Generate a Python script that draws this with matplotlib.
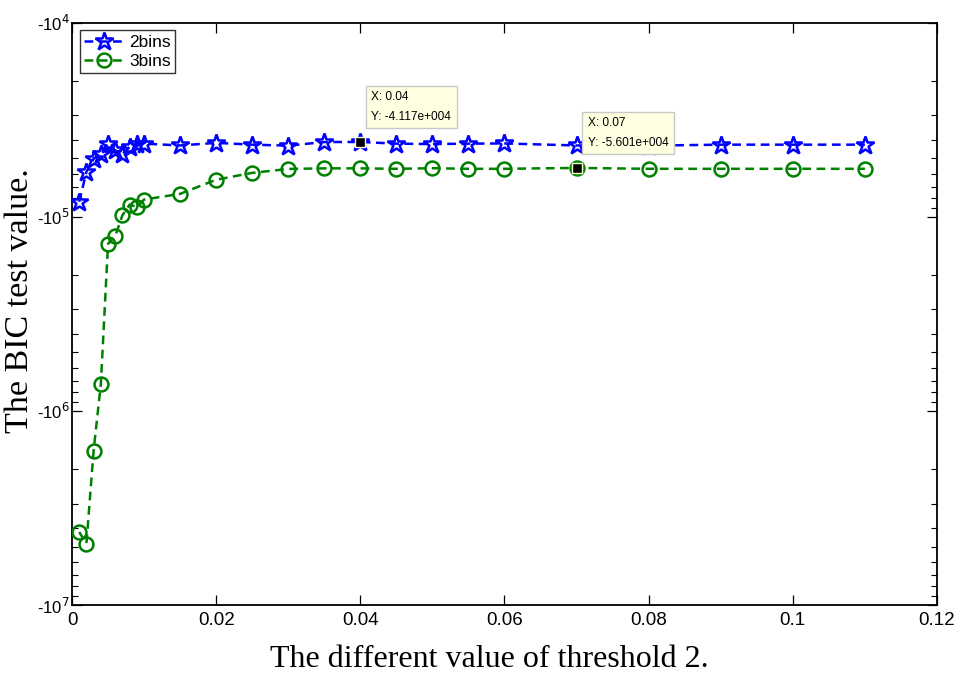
import math
import matplotlib
matplotlib.use("Agg")
import matplotlib.pyplot as plt
from matplotlib.ticker import FixedLocator, FuncFormatter, LogLocator, NullFormatter

# Threshold values (x) and BIC magnitudes; BIC values are negative, plotted by |BIC|
threshold = [0.001, 0.002, 0.003, 0.004, 0.005, 0.006, 0.007, 0.008, 0.009, 0.010,
             0.015, 0.020, 0.025, 0.030, 0.035, 0.040, 0.045, 0.050, 0.055, 0.060,
             0.070, 0.080, 0.090, 0.100, 0.110]

bic_2bins = [83.7e3, 58.7e3, 50.2e3, 47.3e3, 42.0e3, 45.5e3, 47.3e3, 43.7e3, 42.0e3, 42.0e3,
             42.9e3, 41.6e3, 42.5e3, 43.0e3, 41.2e3, 41.17e3, 42.0e3, 42.2e3, 42.0e3, 41.9e3,
             42.9e3, 43.0e3, 42.5e3, 42.5e3, 42.5e3]

bic_3bins = [4.21e6, 4.83e6, 1.60e6, 7.27e5, 1.377e5, 1.257e5, 9.80e4, 8.65e4, 8.92e4, 8.15e4,
             7.62e4, 6.44e4, 5.94e4, 5.67e4, 5.63e4, 5.63e4, 5.66e4, 5.62e4, 5.66e4, 5.66e4,
             5.601e4, 5.66e4, 5.66e4, 5.66e4, 5.66e4]

series_labels = ["2bins", "3bins"]
x_ticks = [0, 0.02, 0.04, 0.06, 0.08, 0.1, 0.12]
x_tick_labels = ["0", "0.02", "0.04", "0.06", "0.08", "0.1", "0.12"]
y_decades = [4, 5, 6, 7]

# data tips: (series index, x value)
tips = [(0, 0.040), (1, 0.070)]

sans = "Liberation Sans"
label_font = "Liberation Serif"

fig = plt.figure(figsize=(9.6, 6.75), dpi=100)
ax = fig.add_axes([0.075, 0.1037, 0.901, 0.8627])

ax.plot(threshold, bic_2bins, linestyle="--", color="#0000ff", linewidth=1.8,
        marker="*", markersize=13.5, markerfacecolor="none", markeredgecolor="#0000ff",
        markeredgewidth=1.8, dashes=(3.5, 2.2), label=series_labels[0], zorder=3)
ax.plot(threshold, bic_3bins, linestyle="--", color="#008000", linewidth=1.8,
        marker="o", markersize=10, markerfacecolor="none", markeredgecolor="#008000",
        markeredgewidth=1.8, dashes=(3.5, 2.2), label=series_labels[1], zorder=3)

ax.set_yscale("log")
ax.set_ylim(1e7, 1e4)  # larger magnitude (more negative) at the bottom
ax.set_xlim(0, 0.12)

ax.yaxis.set_major_locator(FixedLocator([10.0 ** d for d in y_decades]))
ax.yaxis.set_minor_locator(LogLocator(base=10, subs=range(2, 10)))
ax.yaxis.set_minor_formatter(NullFormatter())
ax.yaxis.set_major_formatter(FuncFormatter(lambda v, p: r"-10$^{%d}$" % round(math.log10(v))))

ax.xaxis.set_major_locator(FixedLocator(x_ticks))
ax.set_xticklabels(x_tick_labels)

ax.tick_params(which="both", direction="in", top=True, right=True)
ax.tick_params(which="major", length=7, width=0.9)
ax.tick_params(which="minor", length=4, width=0.8)
ax.tick_params(axis="x", which="major", pad=5)
ax.tick_params(axis="y", which="major", pad=1.5)
for lab in ax.get_xticklabels():
    lab.set_fontfamily(sans)
    lab.set_fontsize(13.5)
for lab in ax.get_yticklabels():
    lab.set_fontfamily(sans)
    lab.set_fontsize(12)
for s in ax.spines.values():
    s.set_linewidth(1.3)

ax.set_xlabel("The different value of threshold 2.", fontfamily=label_font, fontsize=23)
ax.xaxis.set_label_coords(0.483, -0.068)
ax.set_ylabel("The BIC test value.", fontfamily=label_font, fontsize=24.5,
              va="center", ha="center")
ax.yaxis.set_label_coords(-0.0607, 0.522)

leg = ax.legend(loc="upper left", bbox_to_anchor=(0.0, 1.0), frameon=True, fancybox=False,
                edgecolor="black", prop={"family": sans, "size": 12.5},
                handlelength=2.3, handletextpad=0.3, borderpad=0.25, labelspacing=0.2,
                borderaxespad=0.45)
leg.get_frame().set_linewidth(1.0)

# data tips with highlighted points
series = [bic_2bins, bic_3bins]
for si, xv in tips:
    yv = series[si][threshold.index(xv)]
    ax.plot([xv], [yv], marker="s", markersize=7, color="black",
            markeredgecolor="#ffffcc", markeredgewidth=1.0, zorder=6, linestyle="none")
    txt = "X: %g\nY: -%.3fe+004" % (xv, yv / 1e4)
    ax.annotate(txt, xy=(xv, yv), xytext=(11, 19), textcoords="offset pixels",
                fontsize=8.6, fontfamily=sans, ha="left", va="bottom",
                linespacing=1.85,
                bbox=dict(boxstyle="square,pad=0.45", facecolor="#ffffe1",
                          edgecolor="#c8c8c8", linewidth=1.0),
                zorder=7)

fig.savefig("out.png", dpi=100)
